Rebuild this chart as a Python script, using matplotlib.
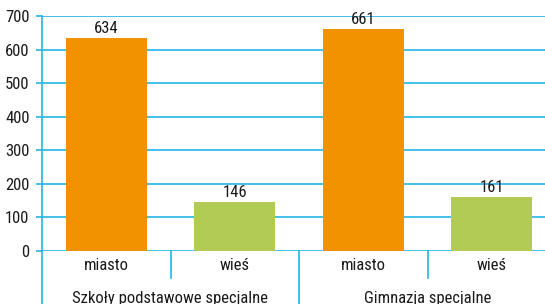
import matplotlib
matplotlib.use("Agg")
import matplotlib.pyplot as plt
from matplotlib import font_manager as fm

categories = ["miasto", "wieś", "miasto", "wieś"]
groups = ["Szkoły podstawowe specjalne", "Gimnazja specjalne"]
values = [634, 146, 661, 161]
colors = ["#f39200", "#b1cb55", "#f39200", "#b1cb55"]
yticks = [0, 100, 200, 300, 400, 500, 600, 700]

names = {f.name for f in fm.fontManager.ttflist}
fam = "DejaVu Sans"
for cand in ["Roboto Condensed", "Archivo Narrow", "Barlow Condensed", "Asap Condensed"]:
    if cand in names:
        fam = cand
        break
plt.rcParams['font.family'] = [fam, 'DejaVu Sans']
FS = 12

W, H = 545, 304
fig = plt.figure(figsize=(W/100, H/100), dpi=100)
left, right_px, top, bottom = 42, 556, 16, 251
ax = fig.add_axes([left/W, 1-bottom/H, (W-left)/W, (bottom-top)/H])
slot = (right_px-left)/4
xmax = -0.5 + (W-left)/slot
ax.set_xlim(-0.5, xmax)
ax.set_ylim(0, 700)

gc = "#22b4e6"
x = list(range(len(values)))
ax.bar(x, values, width=0.63, color=colors, zorder=3)
for xi, v in zip(x, values):
    ax.text(xi, v + 5, str(v), ha="center", va="bottom", fontsize=FS, color="#1a1a1a", zorder=4)

ax.set_yticks(yticks)
ax.set_yticklabels([str(t) for t in yticks], fontsize=FS, color="#1a1a1a")
ax.tick_params(axis="y", length=4, color=gc, width=1.2, pad=5)
ax.set_xticks([])
for t in yticks:
    ax.axhline(t, color=gc, lw=1.2, zorder=1)
for s in ["top", "right", "bottom"]:
    ax.spines[s].set_visible(False)
ax.spines["left"].set_color(gc)
ax.spines["left"].set_linewidth(1.2)

def vline(px, y0, y1):
    fig.add_artist(plt.Line2D([px/W, px/W], [1-y0/H, 1-y1/H], color=gc, lw=1.2))

vline(left, bottom, H)
vline(left+slot, bottom, 278)
vline(left+2*slot, bottom, H)
vline(left+3*slot, bottom, 278)

for i, c in enumerate(categories):
    cx = left + slot*(i+0.5)
    fig.text(cx/W, 1-265/H, c, ha="center", va="center", fontsize=FS, color="#1a1a1a")
for i, g in enumerate(groups):
    cx = left + slot*(2*i+1)
    fig.text(cx/W, 1-298/H, g, ha="center", va="center", fontsize=FS, color="#1a1a1a")

fig.savefig("out.png", dpi=100)
